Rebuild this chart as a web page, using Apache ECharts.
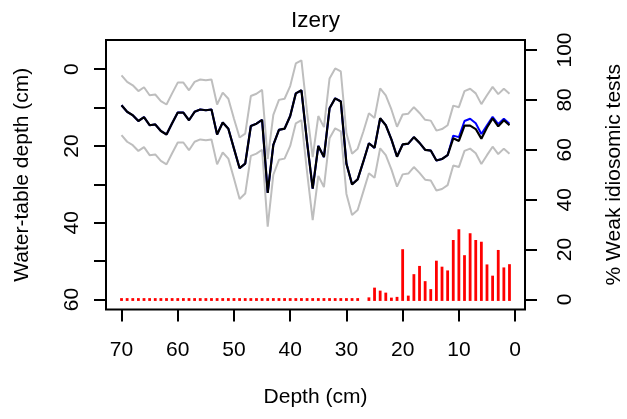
<!DOCTYPE html>
<html>
<head>
<meta charset="utf-8">
<script src="https://cdn.jsdelivr.net/npm/echarts@6/dist/echarts.min.js"></script>
<style>
  html, body { margin: 0; padding: 0; background: #fff; }
  #chart { width: 627px; height: 419px; }
</style>
</head>
<body>
<div id="chart"></div>
<script>
// Sample depths (cm), top of core = 0
const depth = [70,69,68,67,66,65,64,63,62,61,60,59,58,57,56,55,54,53,52,51,
               50,49,48,47,46,45,44,43,42,41,40,39,38,37,36,35,34,33,32,31,
               30,29,28,27,26,25,24,23,22,21,20,19,18,17,16,15,14,13,12,11,
               10,9,8,7,6,5,4,3,2,1];

// Reconstructed water-table depth (cm), main reconstruction
const wtdMain = [9.4,11.1,12.0,13.5,12.5,14.6,14.4,16.1,17.0,14.1,11.3,11.3,13.3,11.1,10.5,10.7,10.5,17.0,13.9,15.5,
                 20.7,25.8,24.6,14.8,14.2,13.2,32.2,19.7,15.8,15.5,12.2,6.3,5.5,19.0,31.1,20.0,22.9,10.2,7.6,8.4,
                 24.6,30.0,28.7,24.1,19.3,20.5,12.8,14.6,18.3,22.8,19.6,19.4,17.7,19.2,21.0,21.2,23.8,23.4,22.4,18.0,
                 18.7,14.7,14.7,15.6,18.1,15.2,12.8,14.9,13.3,14.6];

// Reconstruction including weak idiosomic tests
const wtdAll = [9.4,11.1,12.0,13.5,12.5,14.6,14.4,16.1,17.0,14.1,11.3,11.3,13.3,11.1,10.5,10.7,10.5,17.0,13.9,15.5,
                20.7,25.8,24.6,14.8,14.2,13.2,32.2,19.7,15.8,15.5,12.2,6.3,5.5,19.0,31.1,20.0,22.9,10.2,7.6,8.4,
                24.6,30.0,28.7,24.1,19.3,20.5,12.8,14.6,18.3,22.8,19.6,19.4,17.7,19.2,21.0,21.2,23.8,23.4,22.4,17.3,
                17.7,13.5,12.9,14.1,16.9,14.6,12.4,14.3,12.9,14.2];

// Sample-specific error band (cm)
const wtdUpper = [1.6,3.3,4.2,5.7,4.7,6.8,6.6,8.3,9.2,6.3,3.5,3.5,5.5,3.3,2.7,2.9,2.7,9.2,6.1,7.7,
                  12.9,17.8,16.8,7.0,6.4,5.4,23.4,11.9,8.0,7.7,4.4,-1.5,-2.3,11.2,22.9,12.2,15.1,2.4,-0.2,0.6,
                  16.7,22.0,20.7,16.3,11.5,12.7,5.0,6.8,10.5,15.0,11.8,11.6,9.9,11.4,13.2,13.4,16.0,15.6,14.6,9.5,
                  9.9,5.7,5.1,6.3,9.1,6.8,4.6,6.5,5.1,6.4];
const wtdLower = [17.2,18.9,19.8,21.3,20.3,22.4,22.2,23.9,24.8,21.9,19.1,19.1,21.1,18.9,18.3,18.5,18.3,24.8,21.7,23.3,
                  28.5,33.8,32.4,22.6,22.0,21.0,41.0,27.5,23.6,23.3,20.0,14.1,13.3,26.8,39.3,27.8,30.7,18.0,15.4,16.2,
                  32.5,38.0,36.7,31.9,27.1,28.3,20.6,22.4,26.1,30.6,27.4,27.2,25.5,27.0,28.8,29.0,31.6,31.2,30.2,25.1,
                  25.5,21.3,20.7,21.9,24.7,22.4,20.2,22.1,20.7,22.0];

// Percentage of weak idiosomic tests (null = no count)
const weakPct = [0,0,0,0,0,0,0,0,0,0,0,0,0,0,0,0,0,0,0,0,
                 0,0,0,0,0,0,0,0,0,0,0,0,0,0,0,0,0,0,0,0,
                 0,0,0,null,0.3,4.2,3.0,2.2,0.2,0.5,19.6,1.0,9.6,12.9,6.8,3.6,15.0,12.6,11.1,23.3,
                 27.6,17.2,26.0,23.3,22.6,13.5,9.0,19.3,12.3,13.6];

const xTicks = [0,10,20,30,40,50,60,70];
const leftTicks = [0,10,20,30,40,50,60];
const leftLabels = [0,20,40,60];
const rightTicks = [0,20,40,60,80,100];

const pairs = (ys) => depth.map((d, i) => [d, ys[i]]);
const FONT = '"Liberation Sans", Arial, Helvetica, sans-serif';

const chart = echarts.init(document.getElementById('chart'), null, { renderer: 'canvas' });

const tickStyle = { color: '#000', width: 2 };
const labelStyle = { color: '#000', fontSize: 21, fontFamily: FONT, lineHeight: 21 };

chart.setOption({
  animation: false,
  backgroundColor: '#fff',
  textStyle: { fontFamily: FONT },
  graphic: [{
    type: 'text', x: 315.5, y: 21,
    style: { text: 'Izery', fill: '#000', font: '22.5px ' + FONT, textAlign: 'center', textVerticalAlign: 'middle' }
  }],
  grid: {
    left: 106, top: 40, width: 419, height: 269.5,
    containLabel: false, outerBoundsMode: 'none',
    show: true, borderColor: '#000', borderWidth: 2, backgroundColor: 'transparent'
  },
  xAxis: {
    type: 'value', inverse: true, min: -1.76, max: 72.76, position: 'bottom',
    name: 'Depth (cm)', nameLocation: 'middle', nameGap: 77.5,
    nameTextStyle: labelStyle,
    axisLine: { show: false, onZero: false },
    axisTick: { show: true, inside: false, length: 12, lineStyle: tickStyle, customValues: xTicks },
    axisLabel: { ...labelStyle, margin: 30, customValues: xTicks },
    splitLine: { show: false }
  },
  yAxis: [{
    type: 'value', inverse: true, min: -7.6, max: 62.6, position: 'left',
    name: 'Water-table depth (cm)', nameLocation: 'middle', nameGap: 73.5, nameRotate: 90,
    nameTextStyle: labelStyle,
    axisLine: { show: false, onZero: false },
    axisTick: { show: true, inside: false, length: 12, lineStyle: tickStyle, customValues: leftTicks },
    axisLabel: { ...labelStyle, rotate: 90, margin: 23.5, customValues: leftLabels },
    splitLine: { show: false }
  }, {
    type: 'value', min: -4, max: 104, position: 'right',
    name: '% Weak idiosomic tests', nameLocation: 'middle', nameGap: 79, nameRotate: 90,
    nameTextStyle: labelStyle,
    axisLine: { show: false, onZero: false },
    axisTick: { show: true, inside: false, length: 12, lineStyle: tickStyle, customValues: rightTicks },
    axisLabel: { ...labelStyle, rotate: 90, margin: 29.5, customValues: rightTicks },
    splitLine: { show: false }
  }],
  series: [
    { type: 'line', data: pairs(wtdUpper), yAxisIndex: 0, showSymbol: false, symbol: 'none',
      lineStyle: { color: '#bebebe', width: 2 }, z: 2 },
    { type: 'line', data: pairs(wtdLower), yAxisIndex: 0, showSymbol: false, symbol: 'none',
      lineStyle: { color: '#bebebe', width: 2 }, z: 2 },
    { type: 'line', data: pairs(wtdAll), yAxisIndex: 0, showSymbol: false, symbol: 'none',
      lineStyle: { color: '#0000ff', width: 2 }, z: 3 },
    { type: 'line', data: pairs(wtdMain), yAxisIndex: 0, showSymbol: false, symbol: 'none',
      lineStyle: { color: '#000000', width: 2.2 }, z: 4 },
    {
      type: 'custom', yAxisIndex: 1, z: 5,
      data: depth.map((d, i) => [d, weakPct[i]]).filter(p => p[1] !== null),
      renderItem: function (params, api) {
        const top = api.coord([api.value(0), api.value(1)]);
        const base = api.coord([api.value(0), 0]);
        const w = 2.8, cap = 1.4;
        return {
          type: 'rect',
          shape: { x: top[0] - w / 2, y: top[1] - cap, width: w, height: base[1] - top[1] + 2 * cap },
          style: { fill: '#ff0000' }
        };
      }
    }
  ]
});
</script>
</body>
</html>
